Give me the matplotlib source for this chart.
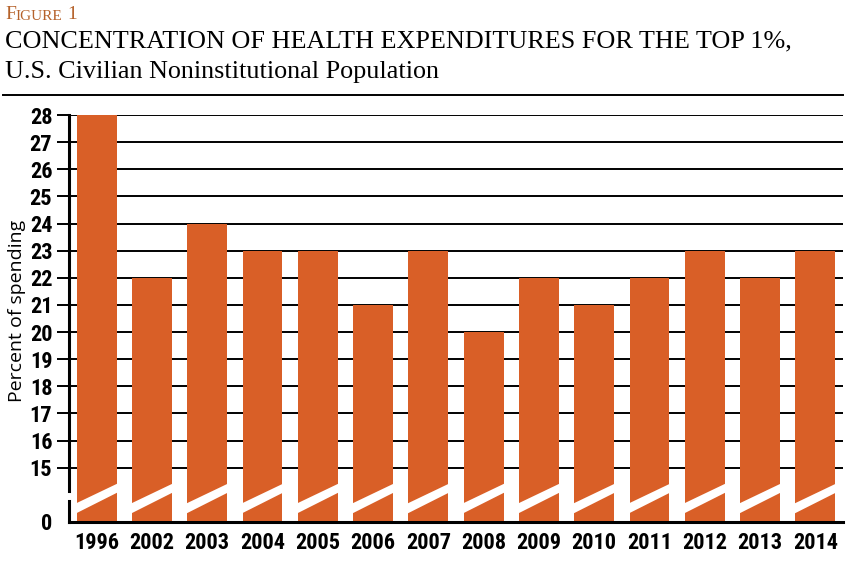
import matplotlib.pyplot as plt
from matplotlib.patches import Polygon
from matplotlib.lines import Line2D

years = ['1996', '2002', '2003', '2004', '2005', '2006', '2007',
         '2008', '2009', '2010', '2011', '2012', '2013', '2014']
pct = [28, 22, 24, 23, 23, 21, 23, 20, 22, 21, 22, 23, 22, 23]
yticks = list(range(15, 29))

bar_color = '#d95f27'
base = 13          # where the broken axis puts 0
num_font = ['Liberation Sans Narrow', 'Roboto Condensed', 'Open Sans Condensed',
            'Roboto']
serif = 'Liberation Serif'
head_color = '#b5622b'

fig = plt.figure(figsize=(8.48, 5.67), dpi=100)
ax = fig.add_axes([69 / 848, 1 - 522 / 567, (843 - 69) / 848, (522 - 115) / 567])

x = list(range(len(years)))
heights = [v - base for v in pct]
ax.bar(x, heights, bottom=base, width=0.72, color=bar_color, zorder=2)

# white slanted band = axis break in each bar
for xi in x:
    l, r = xi - 0.38, xi + 0.38
    band = Polygon([(l, 13.31), (r, 14.09), (r, 14.42), (l, 13.68)],
                   closed=True, facecolor='white', edgecolor='none', zorder=3)
    ax.add_patch(band)

ax.set_xlim(-0.5, 13.5)
ax.set_ylim(base, 28)

ax.set_yticks(yticks + [base])
ax.set_yticklabels([str(t) for t in yticks] + ['0'])
ax.set_xticks(x)
ax.set_xticklabels(years)

for t in yticks:
    ax.axhline(t, color='black', lw=1.4, zorder=1)

for s in ['top', 'right', 'left']:
    ax.spines[s].set_visible(False)
ax.spines['bottom'].set_linewidth(2.2)
ax.spines['bottom'].set_zorder(4)

# left axis drawn in two pieces with a gap
ax.add_line(Line2D([-0.5, -0.5], [base, 13.78], color='black', lw=2.2,
                   clip_on=False, zorder=4))
ax.add_line(Line2D([-0.5, -0.5], [14.14, 28], color='black', lw=2.2,
                   clip_on=False, zorder=4))

ax.tick_params(axis='y', length=9, width=1.4, pad=3, labelsize=16)
ax.tick_params(axis='x', length=0, pad=7, labelsize=16)
ax.yaxis.get_major_ticks()[-1].tick1line.set_visible(False)
for lab in ax.get_xticklabels() + ax.get_yticklabels():
    lab.set_fontfamily(num_font)
    lab.set_fontweight('bold')
    lab.set_fontstretch('condensed')

fig.text(17 / 848, 1 - 311 / 567, 'Percent of spending', rotation=90,
         fontsize=14, family='Open Sans', ha='center', va='center')

# header
f1 = fig.text(5 / 848, 1 - 19 / 567, 'F', fontsize=14, family=serif,
              color=head_color, va='baseline')
f2 = ax.annotate('IGURE', xy=(1, 0), xycoords=f1, fontsize=11,
                 family=serif, color=head_color, va='bottom')
ax.annotate(' 1', xy=(1, 0), xycoords=f2, fontsize=14,
            family=serif, color=head_color, va='bottom')
fig.text(5 / 848, 1 - 47 / 567, 'CONCENTRATION OF HEALTH EXPENDITURES FOR THE TOP 1%,',
         fontsize=18.8, family=serif, va='baseline')
fig.text(5 / 848, 1 - 78 / 567, 'U.S. Civilian Noninstitutional Population',
         fontsize=18.8, family=serif, va='baseline')
fig.add_artist(Line2D([3 / 848, 843 / 848], [1 - 95 / 567, 1 - 95 / 567],
                      color='black', lw=1.4))

fig.savefig('out.png', dpi=100)
